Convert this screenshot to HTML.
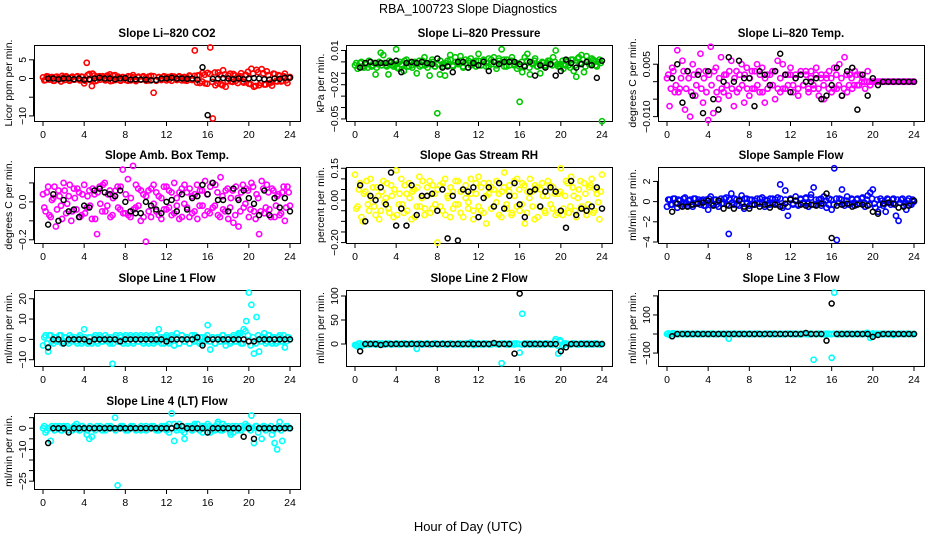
<!DOCTYPE html>
<html><head><meta charset="utf-8"><style>
body{margin:0;background:#fff}
svg{display:block;font-family:"Liberation Sans",sans-serif}
</style></head><body>
<svg id="c" width="936" height="540" viewBox="0 0 936 540">
<text x="468" y="13" text-anchor="middle" font-size="12.5">RBA_100723  Slope Diagnostics</text>
<text x="468" y="531" text-anchor="middle" font-size="13">Hour of Day (UTC)</text>
</svg>
<script>
// ---- data (colored series: 97 points 0..24 h; extra band readings offset; black averages 0.5..24 h)
const co2 = [0.3,-0.4,0.5,0.2,-0.6,0.4,0.1,-0.8,0.3,0.6,-0.5,0.2,-0.3,0.4,-0.2,0.5,
-1.3,4.2,1.2,-2,0.8,-0.5,0.6,0.2,-0.4,0.8,1.1,-0.6,0.9,0.3,-0.5,0.4,
0.2,-0.6,0.5,0.9,-0.4,0.3,-0.3,0.6,0.2,-0.5,0.7,-3.8,-0.6,0.3,-0.4,0.5,
0.4,-0.3,0.6,0.2,-0.4,0.5,0.3,-0.5,0.2,0.6,-0.3,7.5,0.8,-1.2,1.5,-1.3,
1.5,8.3,-10.7,-1.8,1.6,-1.5,2.2,-2.2,0.8,-0.8,1.2,-0.6,0.4,1.4,-1.1,0.9,
-1.4,2.6,-2.2,2.3,-1.8,2.5,-1.6,1.9,-1.3,-1.9,1.2,-0.8,0.7,-0.6,1.3,-1.2,0.4];
const co2Band = [-0.5,0.6,-0.3,0.4,-0.6,0.5,-0.2,0.7,-0.4,0.3,-0.6,0.5,-0.3,0.6,-0.5,0.4,
-0.6,0.9,-0.4,1.3,-0.7,0.5,-0.3,0.6,-0.5,0.4,-0.7,0.8,-0.4,0.5,-0.6,0.3,
-0.4,0.6,-0.5,0.3,-0.7,0.5,-0.3,0.4,-0.6,0.5,-0.4,0.6,-0.5,0.4,-0.3,0.6,
-0.5,0.4,-0.6,0.5,-0.3,0.6,-0.5,0.4,-0.6,0.8,-0.4,0.7,-1.1,0.9,-0.8,1.0,
-1.4,1.2,-0.9,1.6,-1.3,0.9,-1.8,1.1,-0.7,1.3,-0.9,0.8,-1.2,0.6,-0.8,1.0,
1.8,-1.5,1.3,-2.0,1.7,-1.2,1.4,-1.6,0.9,-1.1,1.3,-0.7,0.9,-0.8,0.6,-0.5,0.3];
const co2Avg = [0,0,-0.2,0,0,-0.2,0,-0.3,-0.2,0,0.2,0,0,-0.2,0,0.1,-0.3,-0.2,-0.3,-0.3,-0.5,-0.4,0,0,0.2,0,0,-0.1,0,-0.3,3.0,-9.8,-0.1,0,0.1,0,-0.2,0,-0.2,0,0.1,0,-0.2,-0.3,0,-0.1,0.2,0.2];
const pres = [-0.003,-0.006,-0.001,-0.004,-0.002,-0.005,0,-0.003,-0.011,-0.002,0.008,0.006,-0.003,-0.011,-0.001,-0.004,
0.011,-0.006,-0.002,-0.008,0.002,-0.004,-0.003,-0.001,-0.010,0.001,-0.003,0.004,-0.002,-0.012,0.002,-0.004,
-0.045,-0.011,-0.002,-0.012,0.001,0.006,-0.003,0.004,-0.001,0.005,-0.004,0.002,-0.005,0.003,-0.002,0.001,
0.007,-0.003,0.001,-0.004,0.003,-0.002,0.004,-0.006,0.001,0.011,-0.004,0.002,-0.003,0.004,-0.002,-0.006,
-0.035,-0.009,0.004,0.007,-0.011,-0.002,0.003,-0.004,-0.010,-0.001,-0.003,0.001,-0.002,0.004,0.010,-0.004,
-0.002,-0.006,0.001,-0.003,0.002,-0.008,-0.013,0.004,0.006,-0.009,0.005,-0.002,0.003,0.001,-0.004,0.002,-0.052];
const presBand = [-0.001,-0.004,0,-0.005,-0.002,0.001,-0.004,-0.001,-0.005,0,-0.003,-0.001,-0.004,0.001,-0.003,-0.002,
-0.005,0,-0.003,0.001,-0.004,-0.001,-0.005,0,-0.002,-0.004,0.001,-0.003,-0.005,-0.001,0,-0.004,
-0.002,0.001,-0.004,-0.001,-0.003,0.002,-0.004,0,-0.002,0.001,-0.005,-0.001,0.001,-0.003,0,-0.004,
0.001,-0.003,0.002,-0.001,-0.004,0.002,0,-0.003,0.003,-0.001,0.002,-0.004,0,0.001,-0.003,-0.001,
-0.004,0,-0.003,0.001,-0.005,-0.001,0.001,-0.004,-0.002,0,-0.004,-0.001,0.001,-0.003,0,-0.002,
-0.004,0.001,-0.003,0,-0.005,0.002,-0.003,0.003,-0.001,0.002,-0.004,0.001,-0.002,0.002,-0.003,0,-0.001];
const presAvg = [-0.005,-0.001,0,-0.001,-0.001,-0.001,0,0.001,-0.009,-0.001,0,-0.001,0,-0.001,-0.002,0.003,-0.005,-0.004,-0.009,0,0,-0.005,-0.001,-0.003,0,-0.008,0,-0.002,0,0,0,-0.002,-0.004,0,-0.012,-0.003,-0.005,-0.002,-0.012,-0.008,0.002,-0.001,-0.005,-0.002,0,-0.003,-0.014,0.001];
const temp = [0.001,-0.007,0.004,-0.003,0.009,-0.002,0.006,-0.008,0.003,-0.010,0.005,-0.004,0.002,0.008,-0.006,0.003,
-0.011,0.010,-0.009,0.004,-0.005,0.007,-0.003,0.002,-0.004,0.006,-0.007,0.003,-0.002,0.005,-0.006,0.004,
-0.004,0.003,-0.002,0.005,-0.003,0.004,-0.006,0.002,-0.001,0.003,-0.005,0.006,-0.003,0.005,-0.002,0.002,
0.004,-0.003,0.002,-0.004,0.003,-0.001,0.002,-0.003,0.003,-0.002,0.004,-0.004,0.002,-0.005,0.001,0.003,
-0.003,0.004,-0.002,0.005,-0.004,0.007,-0.003,0.002,-0.002,0.003,-0.001,0.002,0.001,-0.002,0.003,-0.001,
0,0,0,0,0,0,0,0,0,0,0,0,0,0,0,0,0];
const tempBand = [0.002,-0.002,0.003,-0.001,-0.003,0.001,0.003,-0.002,0.001,-0.003,0.002,-0.001,0.003,-0.002,0.001,-0.003,
0.002,-0.001,0.003,-0.003,0.001,-0.002,0.002,-0.001,0.003,-0.002,0.001,-0.003,0.002,-0.001,0.002,-0.002,
0.001,-0.002,0.003,-0.001,0.002,-0.003,0.001,-0.002,0.002,-0.001,0.003,-0.002,0.001,-0.002,0.002,-0.001,
0.002,-0.001,0.001,-0.002,0.002,-0.001,0.003,-0.002,0.001,-0.001,0.002,-0.002,0.001,-0.001,0.002,-0.002,
0.001,-0.002,0.002,-0.001,0.001,-0.002,0.002,-0.001,0.001,-0.001,0.002,-0.001,0,0,0,0,
0,0,0,0,0,0,0,0,0,0,0,0,0,0,0,0,0];
const tempAvg = [0.001,0.005,-0.006,0.003,-0.004,0.002,-0.009,0.003,-0.005,-0.008,0,0.007,0,0.006,0.001,0.001,-0.007,0.003,0.002,-0.001,0.003,0.008,0.002,-0.003,0.001,0.002,0,0,0.001,-0.005,-0.004,-0.001,0.004,-0.004,0.003,0.004,-0.008,0.002,-0.004,0.001,-0.001,0,0,0,0,0,0,0];
const amb = [0.04,-0.05,0.08,-0.08,0.02,-0.13,0.06,-0.02,0.10,-0.06,0.03,-0.10,0.07,-0.04,0.05,-0.07,
0.09,-0.03,0.06,-0.09,0.04,-0.17,0.08,-0.05,0.10,-0.02,0.06,-0.07,0.03,0.08,-0.04,0.17,
-0.06,0.12,-0.08,0.19,-0.03,0.07,-0.10,0.04,-0.21,0.06,-0.08,0.09,-0.05,0.03,-0.09,0.08,
-0.04,0.06,-0.07,0.10,-0.02,0.05,-0.08,0.09,-0.03,0.07,-0.06,0.04,-0.09,0.06,-0.02,0.11,
-0.05,0.08,-0.03,0.09,-0.07,0.13,-0.04,0.06,-0.09,0.02,-0.11,0.08,-0.13,0.05,-0.03,0.07,
-0.08,0.10,-0.05,0.04,-0.17,0.11,-0.06,0.09,-0.04,0.07,-0.08,0.03,-0.07,0.05,-0.10,0.08,-0.02];
const ambBand = [-0.03,0.05,-0.07,0.01,0.08,-0.04,0.03,-0.09,0.06,-0.01,0.09,-0.05,0.02,0.07,-0.08,0.04,
-0.06,0.03,-0.02,0.07,-0.09,0.05,-0.01,0.09,-0.05,0.04,-0.08,0.02,0.06,-0.03,0.08,-0.06,
0.04,-0.07,0.02,-0.04,0.09,-0.02,0.06,-0.08,0.03,-0.05,0.07,-0.01,0.05,-0.07,0.02,-0.04,
0.08,-0.03,0.05,-0.06,0.02,-0.09,0.07,-0.01,0.05,-0.08,0.03,-0.05,0.09,-0.02,0.06,-0.07,
0.04,-0.06,0.10,-0.02,0.05,-0.08,0.03,-0.05,0.07,-0.03,0.06,-0.07,0.02,-0.05,0.09,-0.01,
0.06,-0.04,0.08,-0.09,0.02,-0.05,0.07,-0.03,0.05,-0.08,0.06,-0.02,0.04,-0.06,0.08,-0.03,0.05];
const ambAvg = [-0.12,0.04,-0.10,0.01,-0.05,-0.04,-0.08,-0.02,-0.03,0.06,0.07,0.05,0.04,0.03,0.06,0.0,-0.05,-0.06,-0.06,0.0,-0.02,-0.04,-0.06,0.00,0.01,-0.05,0.04,-0.04,0.02,0.03,0.09,0.04,0.10,0.01,0.01,-0.05,0.07,0.01,0.06,0.02,-0.01,-0.07,0.06,-0.07,0.02,-0.03,0.02,-0.05];
const rh = [0.12,-0.03,0.08,-0.10,0.04,-0.02,0.10,0.06,-0.07,0.02,-0.05,0.09,0.01,-0.04,0.07,-0.08,
0.14,-0.02,0.10,-0.06,0.03,0.08,-0.09,0.05,-0.03,0.11,0.01,-0.07,0.06,0.09,-0.04,0.03,
-0.20,0.07,-0.05,0.10,0.02,-0.08,0.04,-0.02,0.09,-0.06,0.05,0.01,-0.04,0.10,-0.09,0.03,
0.11,-0.05,0.08,-0.11,0.03,0.06,-0.03,0.09,-0.07,0.04,0.13,-0.04,0.07,-0.06,0.02,0.10,
-0.05,0.08,-0.11,0.04,0.10,-0.03,0.07,-0.08,0.05,0.02,-0.06,0.09,-0.02,0.06,-0.07,0.03,
0.15,-0.04,0.09,-0.06,0.11,0.02,-0.08,0.05,-0.03,0.08,-0.07,0.06,0.10,-0.05,0.03,-0.09,0.12];
const rhBand = [-0.04,0.05,-0.08,0.03,0.09,-0.05,0.01,-0.03,0.06,-0.09,0.04,-0.01,0.08,-0.06,0.02,0.05,
-0.07,0.03,-0.02,0.07,-0.05,0.01,0.04,-0.08,0.06,-0.03,0.09,-0.04,0.02,-0.06,0.07,-0.02,
0.05,-0.03,0.08,-0.07,0.01,0.06,-0.04,0.09,-0.02,0.04,-0.08,0.07,-0.01,0.03,-0.05,0.08,
-0.03,0.06,-0.06,0.02,0.08,-0.04,0.05,-0.01,0.03,-0.08,0.06,-0.02,0.04,-0.07,0.09,-0.03,
0.05,-0.02,0.07,-0.06,0.01,0.04,-0.09,0.06,-0.03,0.08,-0.05,0.02,0.07,-0.04,0.03,-0.06,
0.04,-0.07,0.02,0.08,-0.03,0.06,-0.05,0.01,0.09,-0.04,0.03,-0.02,0.07,-0.06,0.05,-0.01,0.04];
const rhAvg = [0.07,-0.10,0.02,0.00,0.06,-0.02,0.13,-0.12,-0.04,-0.12,0.07,-0.07,0.02,0.02,0.03,-0.05,0.05,-0.18,0.02,-0.19,0.05,0.04,0.06,-0.08,0.01,0.06,-0.03,0.08,-0.04,0.02,0.08,-0.02,-0.08,0.04,0.05,-0.03,0.04,0.06,0.04,-0.05,-0.13,0.09,-0.07,-0.04,-0.05,-0.03,0.06,-0.04];
const samp = [-0.5,0.2,-0.3,0.3,-0.6,0.1,-0.2,0.4,-0.4,0.2,-0.5,0.3,-0.1,-0.3,0.2,-0.4,
-0.8,0.5,-0.3,0.2,-0.5,0.3,-0.2,0.4,-3.2,0.8,-0.3,0.2,-0.4,0.6,-0.7,0.3,
-0.4,0.2,-0.3,0.3,-0.2,0.4,-0.5,0.1,-0.3,0.3,-0.2,0.4,1.7,-0.6,1.1,-1.4,
0.2,-0.3,0.5,-0.4,0.3,-0.2,0.4,-0.5,0.7,1.4,-0.3,0.2,-0.4,0.5,-0.6,0.3,
-0.8,3.3,-3.8,0.3,1.2,-0.4,0.5,-0.3,0.2,-0.4,0.3,-0.2,0.4,-0.5,0.6,0.9,
1.2,-0.6,-1.0,0.3,-0.4,-1.0,0.2,-0.3,0.3,-1.4,-1.9,0.2,-0.4,-0.8,0.3,-0.3,0.0];
const sampBand = [0.2,-0.3,0.3,-0.1,0.2,-0.4,0.3,-0.2,0.1,-0.3,0.3,-0.2,0.2,0.1,-0.4,0.2,
0.3,-0.2,0.2,-0.3,0.1,-0.2,0.3,-0.3,0.2,-0.1,0.3,-0.3,0.2,-0.2,0.3,-0.1,
0.2,-0.3,0.1,-0.2,0.3,-0.1,0.2,-0.3,0.3,-0.1,0.2,-0.3,0.3,-0.4,0.2,-0.5,
0.3,-0.2,0.1,-0.3,0.2,-0.1,0.3,-0.2,0.4,-0.3,0.2,-0.1,0.3,-0.2,0.1,-0.3,
0.2,-0.3,0.3,-0.1,0.2,-0.2,0.1,-0.3,0.3,-0.1,0.2,-0.2,0.3,-0.1,0.2,-0.3,
0.3,-0.2,0.2,-0.3,0.1,-0.2,0.3,-0.1,0.2,-0.3,0.2,-0.1,0.3,-0.2,0.1,-0.2,0.2];
const sampAvg = [-1.0,-0.2,-0.5,-0.5,-0.3,-0.2,-0.1,0.1,-0.4,0.1,-0.7,-0.4,-0.7,0.1,-0.5,-0.7,-0.3,-0.5,-0.3,-0.6,-0.3,-0.5,-0.2,0.2,0.1,-0.3,-0.4,-0.3,-0.4,-0.2,0.8,-3.6,-0.4,-0.3,-0.2,-0.5,-0.3,-0.3,-0.4,-1.0,-1.2,-0.2,-0.1,-0.2,-0.6,-0.5,-0.4,0.1];
const l1 = [-3,2,-6,2,-2,1,-1,2,-1,1,-2,1,0,-1,1,-2,
5,-1,1,-2,1,-1,2,-1,0,1,-2,-12,1,-1,2,-1,
1,-2,2,-1,1,-1,2,-2,1,-1,2,-2,-1,5,-2,1,
2,-1,1,-3,3,-2,2,-1,1,-2,0,2,-1,1,-2,1,
7,-5,1,-2,1,-1,2,-3,1,-1,2,-1,3,-2,5,9,
23,17,-7,11,-6,1,3,-1,2,-2,1,-1,2,-1,-4,1,0];
const l1Band = [1,-2,2,-1,1,-1,2,-2,1,-1,2,-1,1,-2,2,-1,
1,-2,1,-1,2,-2,1,-1,2,-1,1,-2,2,-1,1,-2,
2,-1,1,-2,2,-1,1,-1,2,-2,1,-1,2,-1,1,-2,
1,-2,2,-3,1,-2,2,-1,1,-2,2,-1,1,-2,1,-1,
2,-1,1,-2,1,-1,2,-1,1,-2,1,-1,2,3,-2,4,
2,-3,1,-2,2,-1,1,-2,2,-1,1,-2,1,-1,2,-1,1];
const l1Avg = [-4,0,0,-2,0,0,0,0,-1,0,0,0,0,0,-1,0,0,0,0,0,0,0,0,-1,0,0,0,0,0,1,-3,0,0,0,0,0,0,0,0,-1,-1,0,0,0,0,0,0,0];
const l2 = [-2,-5,1,-3,0,-1,1,0,-1,1,0,-1,1,0,-1,0,
1,-1,0,1,-1,0,1,0,-10,1,-1,0,1,-1,0,1,
0,-1,1,0,-1,1,0,-1,0,1,-1,0,1,2,-2,1,
0,-1,1,0,-1,0,1,0,-1,-40,1,0,-1,0,1,0,
-18,63,-1,1,0,-1,1,0,-1,0,1,0,-1,0,10,-20,
5,-3,1,0,-1,1,0,-1,0,1,0,-1,0,1,0,-1,0];
const l2Band = [-3,1,-2,0,1,-1,0,1,-1,0,1,-1,0,1,-1,0,
1,-1,0,1,-1,0,1,-1,0,1,-1,0,1,-1,0,1,
-1,0,1,-1,0,1,-1,0,1,-1,0,1,-1,3,0,-1,
1,0,-1,1,0,-1,1,0,-1,1,0,-1,1,0,-1,1,
0,-1,1,0,-1,1,0,-1,1,0,-1,1,0,-1,6,-3,
8,-2,1,0,-1,1,0,-1,1,0,-1,1,0,-1,1,0,-1];
const l2Avg = [-15,0,0,0,-2,0,0,0,0,0,0,0,0,0,0,0,0,0,0,0,0,0,0,0,0,0,2,0,0,0,-20,105,0,0,0,0,0,0,0,-15,-7,0,0,0,0,0,0,0];
const l3 = [0,-5,3,-2,1,0,-1,2,0,-1,1,0,-1,0,1,0,
0,1,0,-1,0,1,0,-1,-25,1,0,-1,0,1,0,0,
0,-1,0,1,0,-1,0,1,0,-1,1,0,0,-1,0,1,
0,1,0,-1,0,1,0,0,-1,-135,0,1,0,-1,0,1,
-125,217,0,1,-1,0,1,0,-1,0,1,0,-1,0,5,-20,
3,0,-1,1,0,-1,0,1,-5,0,1,0,-1,0,1,0,0];
const l3Band = [3,-2,4,0,-1,2,0,-2,1,0,-1,2,0,-1,1,0,
-1,2,0,-1,1,0,-2,1,0,-1,2,0,-1,1,0,-1,
2,0,-1,1,0,-2,1,0,-1,2,0,-1,1,0,-1,2,
0,-1,1,0,-2,1,0,-1,2,0,-1,1,0,-1,2,0,
-1,1,0,-2,1,0,-1,2,0,-1,1,0,-1,2,6,-4,
0,-1,1,0,-2,1,0,-1,2,0,-1,1,0,-1,2,0,-1];
const l3Avg = [-12,0,0,0,0,0,0,0,0,0,0,0,0,0,0,0,0,0,0,0,0,0,0,0,0,0,5,0,0,0,-35,160,0,0,0,0,0,0,0,-15,-5,0,0,0,0,0,0,0];
const l4 = [0,-2,0,-6,0,1,0,-1,1,0,-1,0,1,2,-1,1,
0,-3,-5,-4,0,1,0,-1,0,1,0,0,5,-27,0,1,
0,-1,0,1,0,0,-1,0,1,0,0,1,0,-1,0,1,
-1,2,7,-6,0,2,-1,-5,1,0,-1,1,2,0,-2,1,
2,-2,-1,1,3,-1,2,0,1,-3,-2,1,0,-1,0,1,
0,6,-7,1,0,-5,1,0,0,-3,-7,-10,3,-6,0,1,0];
const l4Band = [1,-1,0,1,-1,0,1,-1,0,1,0,-1,1,0,-1,1,
0,-1,1,0,-1,0,1,0,-1,0,1,0,-1,0,1,0,
-1,0,1,0,-1,0,1,0,-1,0,1,0,-1,0,1,0,
1,-2,0,2,-1,0,1,-2,0,1,-1,2,0,-1,1,0,
-2,1,0,-1,2,0,-1,1,0,-2,1,0,-1,1,0,2,
1,-1,0,1,-2,0,1,-1,0,1,-1,0,1,-1,0,1,0];
const l4Avg = [-7,0,0,0,-2,0,0,0,0,0,0,0,0,0,0,0,0,0,0,0,0,0,0,0,0,1,1,0,0,0,0,-2,0,0,0,0,0,0,-4,0,-5,0,0,0,0,0,0,0];
const xTicks = [0,4,8,12,16,20,24];

const panels = [
 {name:'co2',title:'Slope Li\u2013820 CO2',ylab:'Licor ppm per min.',col:'#ff0000',d:co2,b:co2Band,a:co2Avg,lim:[-11.36,8.96],ticks:[5,0,-5,-10],labs:['5','0','','\u221210']},
 {name:'pressure',title:'Slope Li\u2013820 Pressure',ylab:'kPa per min.',col:'#00c800',d:pres,b:presBand,a:presAvg,lim:[-0.0518,0.0148],ticks:[0.01,0,-0.01,-0.02,-0.03,-0.04,-0.05],labs:['0.01','','','\u22120.02','','','\u22120.05']},
 {name:'temp',title:'Slope Li\u2013820 Temp.',ylab:'degrees C per min.',col:'#ff00ff',d:temp,b:tempBand,a:tempAvg,lim:[-0.01125,0.0105],ticks:[0.005,0,-0.005,-0.01],labs:['0.005','','','\u22120.010']},
 {name:'amb-box-temp',title:'Slope Amb. Box Temp.',ylab:'degrees C per min.',col:'#ff00ff',d:amb,b:ambBand,a:ambAvg,lim:[-0.217,0.184],ticks:[0.1,0,-0.1,-0.2],labs:['','0.0','','\u22120.2']},
 {name:'gas-rh',title:'Slope Gas Stream RH',ylab:'percent per min.',col:'#ffff00',d:rh,b:rhBand,a:rhAvg,lim:[-0.202,0.156],ticks:[0.15,0.1,0.05,0,-0.05,-0.1,-0.15,-0.2],labs:['0.15','','','0.00','','','','\u22120.20']},
 {name:'sample-flow',title:'Slope Sample Flow',ylab:'ml/min per min.',col:'#0000ff',d:samp,b:sampBand,a:sampAvg,lim:[-4.1,3.43],ticks:[2,0,-2,-4],labs:['2','0','\u22122','\u22124']},
 {name:'line1-flow',title:'Slope Line 1 Flow',ylab:'ml/min per min.',col:'#00ffff',d:l1,b:l1Band,a:l1Avg,lim:[-13.1,24.3],ticks:[20,10,0,-10],labs:['20','10','0','\u221210']},
 {name:'line2-flow',title:'Slope Line 2 Flow',ylab:'ml/min per min.',col:'#00ffff',d:l2,b:l2Band,a:l2Avg,lim:[-45.8,112.5],ticks:[100,50,0],labs:['100','50','0']},
 {name:'line3-flow',title:'Slope Line 3 Flow',ylab:'ml/min per min.',col:'#00ffff',d:l3,b:l3Band,a:l3Avg,lim:[-168,231],ticks:[200,100,0,-100],labs:['','100','','\u2212100']},
 {name:'line4-flow',title:'Slope Line 4 (LT) Flow',ylab:'ml/min per min.',col:'#00ffff',d:l4,b:l4Band,a:l4Avg,lim:[-28.7,7.2],ticks:[5,0,-5,-10,-15,-20,-25],labs:['','0','','\u221210','','','\u221225']}
];

const NS='http://www.w3.org/2000/svg';
const svg=document.getElementById('c');
function mk(tag,attrs,parent){const e=document.createElementNS(NS,tag);for(const k in attrs)e.setAttribute(k,attrs[k]);parent.appendChild(e);return e;}
const colL=[34,346,658], rowT=[45,167,290,413], W=266, H=76;

panels.forEach((p,idx)=>{
  const L=colL[idx%3], T=rowT[Math.floor(idx/3)];
  const g=mk('g',{},svg);
  
  
  const xs=t=>L+9+t*(247/24);
  const ys=v=>T+H-(v-p.lim[0])/(p.lim[1]-p.lim[0])*H;
  const title=mk('text',{x:L+W/2,y:T-8,'text-anchor':'middle','font-size':'11.5','font-weight':'bold'},g);
  title.textContent=p.title;
  
  
  xTicks.forEach(t=>{
    mk('line',{x1:xs(t),x2:xs(t),y1:T+H,y2:T+H+5,stroke:'#000','stroke-width':1},g);
    const tl=mk('text',{x:xs(t),y:T+H+17,'text-anchor':'middle','font-size':'10.5'},g);
    tl.textContent=t;
    
    
  });
  mk('line',{x1:xs(0),x2:xs(24),y1:T+H+0.5,y2:T+H+0.5,stroke:'#000'},g);
  p.ticks.forEach((v,i)=>{
    const y=ys(v);
    mk('line',{x1:L-5,x2:L,y1:y,y2:y,stroke:'#000'},g);
    if(p.labs[i]){
      const tl=mk('text',{x:0,y:0,'text-anchor':'middle','font-size':'10.5',transform:`translate(${L-8},${y}) rotate(-90)`},g);
      tl.textContent=p.labs[i];
      
      
    }
  });
  mk('line',{x1:L-0.5,x2:L-0.5,y1:ys(p.ticks[0]),y2:ys(p.ticks[p.ticks.length-1]),stroke:'#000'},g);
  const yl=mk('text',{x:0,y:0,'text-anchor':'middle','font-size':'10.5',transform:`translate(${L-22},${T+H/2}) rotate(-90)`},g);
  yl.textContent=p.ylab;
  
  
  const box=mk('rect',{x:L+0.5,y:T+0.5,width:W,height:H,fill:'none',stroke:'#000','stroke-width':1},g);
  
  
  const nb=p.b.length;
  p.b.forEach((v,i)=>{
    const c=mk('circle',{cx:xs((i+0.5)*24/nb),cy:ys(v),r:2.6,fill:'none',stroke:p.col,'stroke-width':1.6},g);
    
    
  });
  const n=p.d.length;
  p.d.forEach((v,i)=>{
    const c=mk('circle',{cx:xs(i*24/(n-1)),cy:ys(v),r:2.6,fill:'none',stroke:p.col,'stroke-width':1.6},g);
    
    
  });
  const m=p.a.length;
  p.a.forEach((v,i)=>{
    const c=mk('circle',{cx:xs((i+1)*24/m),cy:ys(v),r:2.5,fill:'none',stroke:'#000','stroke-width':1.5},g);
    
    
  });
});
</script>
</body></html>
